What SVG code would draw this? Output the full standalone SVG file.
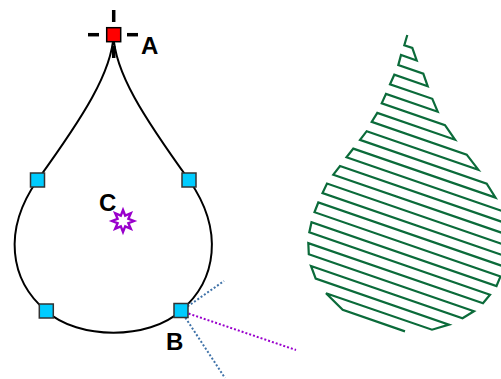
<svg xmlns="http://www.w3.org/2000/svg" width="501" height="379" viewBox="0 0 501 379">
<style>
.outline{fill:none;stroke:#000;stroke-width:2}
.node{fill:#00ccff;stroke:#333;stroke-width:1.5}
.lbl{font-family:"Liberation Sans",Arial,sans-serif;font-weight:bold;font-size:24px;fill:#000}
.bar{stroke:#000;stroke-width:3.5}
.dotb{fill:none;stroke:#3f72a8;stroke-width:2;stroke-dasharray:2 2}
.dotp{fill:none;stroke:#9900cc;stroke-width:2;stroke-dasharray:2 2}
.hatch{fill:none;stroke:#0b6b3a;stroke-width:2.2;stroke-linejoin:miter}
</style>
<rect width="501" height="379" fill="#fff"/>
<g id="connectors">
<path class="outline" d="M113.5,35 C112,72 83,117 37.5,180 C2.5,230 9.5,280.4 46.3,311 C78,340 149,340 180.5,311 C217,280.4 224,230 189,180 C143.5,117 114.5,72 113.5,35 Z"/>
<line class="dotb" x1="181" y1="311" x2="224" y2="281"/>
<line class="dotp" x1="181" y1="311" x2="296" y2="350"/>
<line class="dotb" x1="181" y1="311" x2="225" y2="378"/>
</g>
<g id="hatch">
<polyline class="hatch" points="407.3,35 404.3,45.2 412.3,47.9 416.7,60.5 401,55 398.3,65.1 423.3,73.7 427.7,86.3 394.3,74.7 390,84.3 432.3,98.8 437.7,111.7 386,93.9 381.7,103.4 445,125.2 455,139.7 377.3,112.9 371.7,121.9 466.7,154.7 478.3,169.7 366.7,131.2 360,139.9 486.7,183.6 495.5,197.6 353.3,148.6 346.5,157.2 502,210.9 505,222.9 340,166 333.3,174.7 507,234.6 508,246 327,183.5 322.5,193 507.5,256.8 505,266.9 318.3,202.5 314.5,212.2 500.5,276.4 496.5,286 311.5,222.2 309.3,232.4 490,294.8 483,303.3 308.3,243.1 308.8,254.2 474,311.2 462.5,318.3 311,266 315.7,278.6 449,324.6 432,329.7 326,293.2 342.7,309.9 405,331.4"/>
</g>
<g id="nodeA">
<line class="bar" x1="113.7" y1="10" x2="113.7" y2="22"/>
<line class="bar" x1="113.7" y1="46" x2="113.7" y2="58"/>
<line class="bar" x1="88" y1="34.7" x2="99" y2="34.7"/>
<line class="bar" x1="127" y1="34.7" x2="138" y2="34.7"/>
<rect x="106.7" y="27.7" width="14" height="14" fill="#ff0000" stroke="#000" stroke-width="1.5"/>
<text class="lbl" x="141" y="54">A</text>
</g>
<g id="node1"><rect class="node" x="30.5" y="173" width="14" height="14"/></g>
<g id="node2"><rect class="node" x="182" y="173" width="14" height="14"/></g>
<g id="node3"><rect class="node" x="39.3" y="304" width="14" height="14"/></g>
<g id="nodeB">
<rect class="node" x="174" y="303.5" width="14" height="14"/>
<text class="lbl" x="166" y="350">B</text>
</g>
<g id="nodeC">
<text class="lbl" x="99" y="211">C</text>
<polygon points="123,210 125.2,215.6 130.8,213.2 128.4,218.8 134,221 128.4,223.2 130.8,228.8 125.2,226.4 123,232 120.8,226.4 115.2,228.8 117.6,223.2 112,221 117.6,218.8 115.2,213.2 120.8,215.6" fill="#fff" stroke="#9900cc" stroke-width="2.4" stroke-linejoin="miter"/>
</g>
</svg>
